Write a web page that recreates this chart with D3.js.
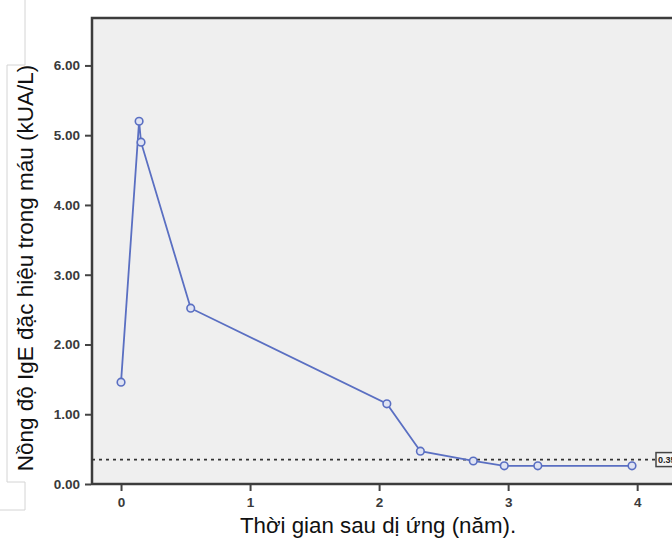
<!DOCTYPE html>
<html lang="vi">
<head>
<meta charset="utf-8">
<title>IgE theo thời gian</title>
<script src="https://cdn.jsdelivr.net/npm/d3@7"></script>
<style>
body { margin: 0; background: #fff; }
text { font-family: Arial, "Liberation Sans", sans-serif; }
.tick text { font-size: 13.5px; font-weight: bold; fill: #3a3a3a; }
.tick line { stroke: #444; stroke-width: 2px; }
.domain { display: none; }
</style>
</head>
<body>
<script>
// values
var years = [0, 0.14, 0.155, 0.54, 2.06, 2.32, 2.73, 2.97, 3.23, 3.96];
var ige = [1.46, 5.20, 4.90, 2.52, 1.15, 0.47, 0.33, 0.26, 0.26, 0.26];
var yTicks = [0, 1, 2, 3, 4, 5, 6];
var xTicks = [0, 1, 2, 3, 4];
var refLine = 0.35;

var w = 672, h = 542;
var pLeft = 92, pTop = 18, pBottom = 484, pRight = 672;

var svg = d3.select("body").append("svg")
    .attr("width", w)
    .attr("height", h);

var x = d3.scaleLinear().domain([-0.225, 4.27]).range([pLeft, pRight]);
var y = d3.scaleLinear().domain([0, 6.68]).range([pBottom, pTop]);

// plot background
svg.append("rect")
    .attr("x", pLeft).attr("y", pTop)
    .attr("width", pRight - pLeft).attr("height", pBottom - pTop)
    .attr("fill", "#efefef");

// frame
svg.append("path")
    .attr("d", "M" + pRight + "," + pTop + "H" + pLeft + "V" + pBottom + "H" + pRight)
    .attr("fill", "none")
    .attr("stroke", "#3c3c3c")
    .attr("stroke-width", 2.5);

// axes
svg.append("g")
    .attr("transform", "translate(" + (pLeft - 1) + ",0)")
    .call(d3.axisLeft(y).tickValues(yTicks).tickFormat(d3.format(".2f")).tickSize(6).tickPadding(5));

svg.append("g")
    .attr("transform", "translate(0," + (pBottom + 1) + ")")
    .call(d3.axisBottom(x).tickValues(xTicks).tickFormat(d3.format("d")).tickSize(6).tickPadding(6));

// reference line
svg.append("line")
    .attr("x1", pLeft).attr("x2", pRight - 16)
    .attr("y1", y(refLine)).attr("y2", y(refLine))
    .attr("stroke", "#333")
    .attr("stroke-width", 1.6)
    .attr("stroke-dasharray", "3,4");

var lab = svg.append("g").attr("transform", "translate(656," + (y(refLine) - 7) + ")");
lab.append("rect")
    .attr("width", 18).attr("height", 14)
    .attr("fill", "#f4f4f4")
    .attr("stroke", "#444")
    .attr("stroke-width", 1.5);
lab.append("text")
    .attr("x", 2).attr("y", 10.5)
    .attr("font-size", 9).attr("font-weight", "bold").attr("fill", "#222")
    .text("0.35");

// data line
var pts = years.map(function(d, i) { return [d, ige[i]]; });
svg.append("path")
    .datum(pts)
    .attr("fill", "none")
    .attr("stroke", "#5a6fc2")
    .attr("stroke-width", 1.8)
    .attr("d", d3.line().x(function(d) { return x(d[0]); }).y(function(d) { return y(d[1]); }));

svg.selectAll("circle.pt")
    .data(pts)
    .enter().append("circle")
    .attr("class", "pt")
    .attr("cx", function(d) { return x(d[0]); })
    .attr("cy", function(d) { return y(d[1]); })
    .attr("r", 3.8)
    .attr("fill", "#dfe3f3")
    .attr("stroke", "#5a6fc2")
    .attr("stroke-width", 1.6);

// stray text-box edges around the y label
svg.append("path")
    .attr("d", "M25,0V65H7V482H25V510H0")
    .attr("fill", "none")
    .attr("stroke", "#d4d4d4")
    .attr("stroke-width", 1);

// axis titles
svg.append("text")
    .attr("transform", "translate(33," + 268 + ") rotate(-90)")
    .attr("text-anchor", "middle")
    .attr("font-size", 22.5)
    .attr("fill", "#111")
    .text("Nồng độ IgE đặc hiệu trong máu (kUA/L)");

svg.append("text")
    .attr("x", 378).attr("y", 533)
    .attr("text-anchor", "middle")
    .attr("font-size", 22.3)
    .attr("fill", "#111")
    .text("Thời gian sau dị ứng (năm).");
</script>
</body>
</html>
